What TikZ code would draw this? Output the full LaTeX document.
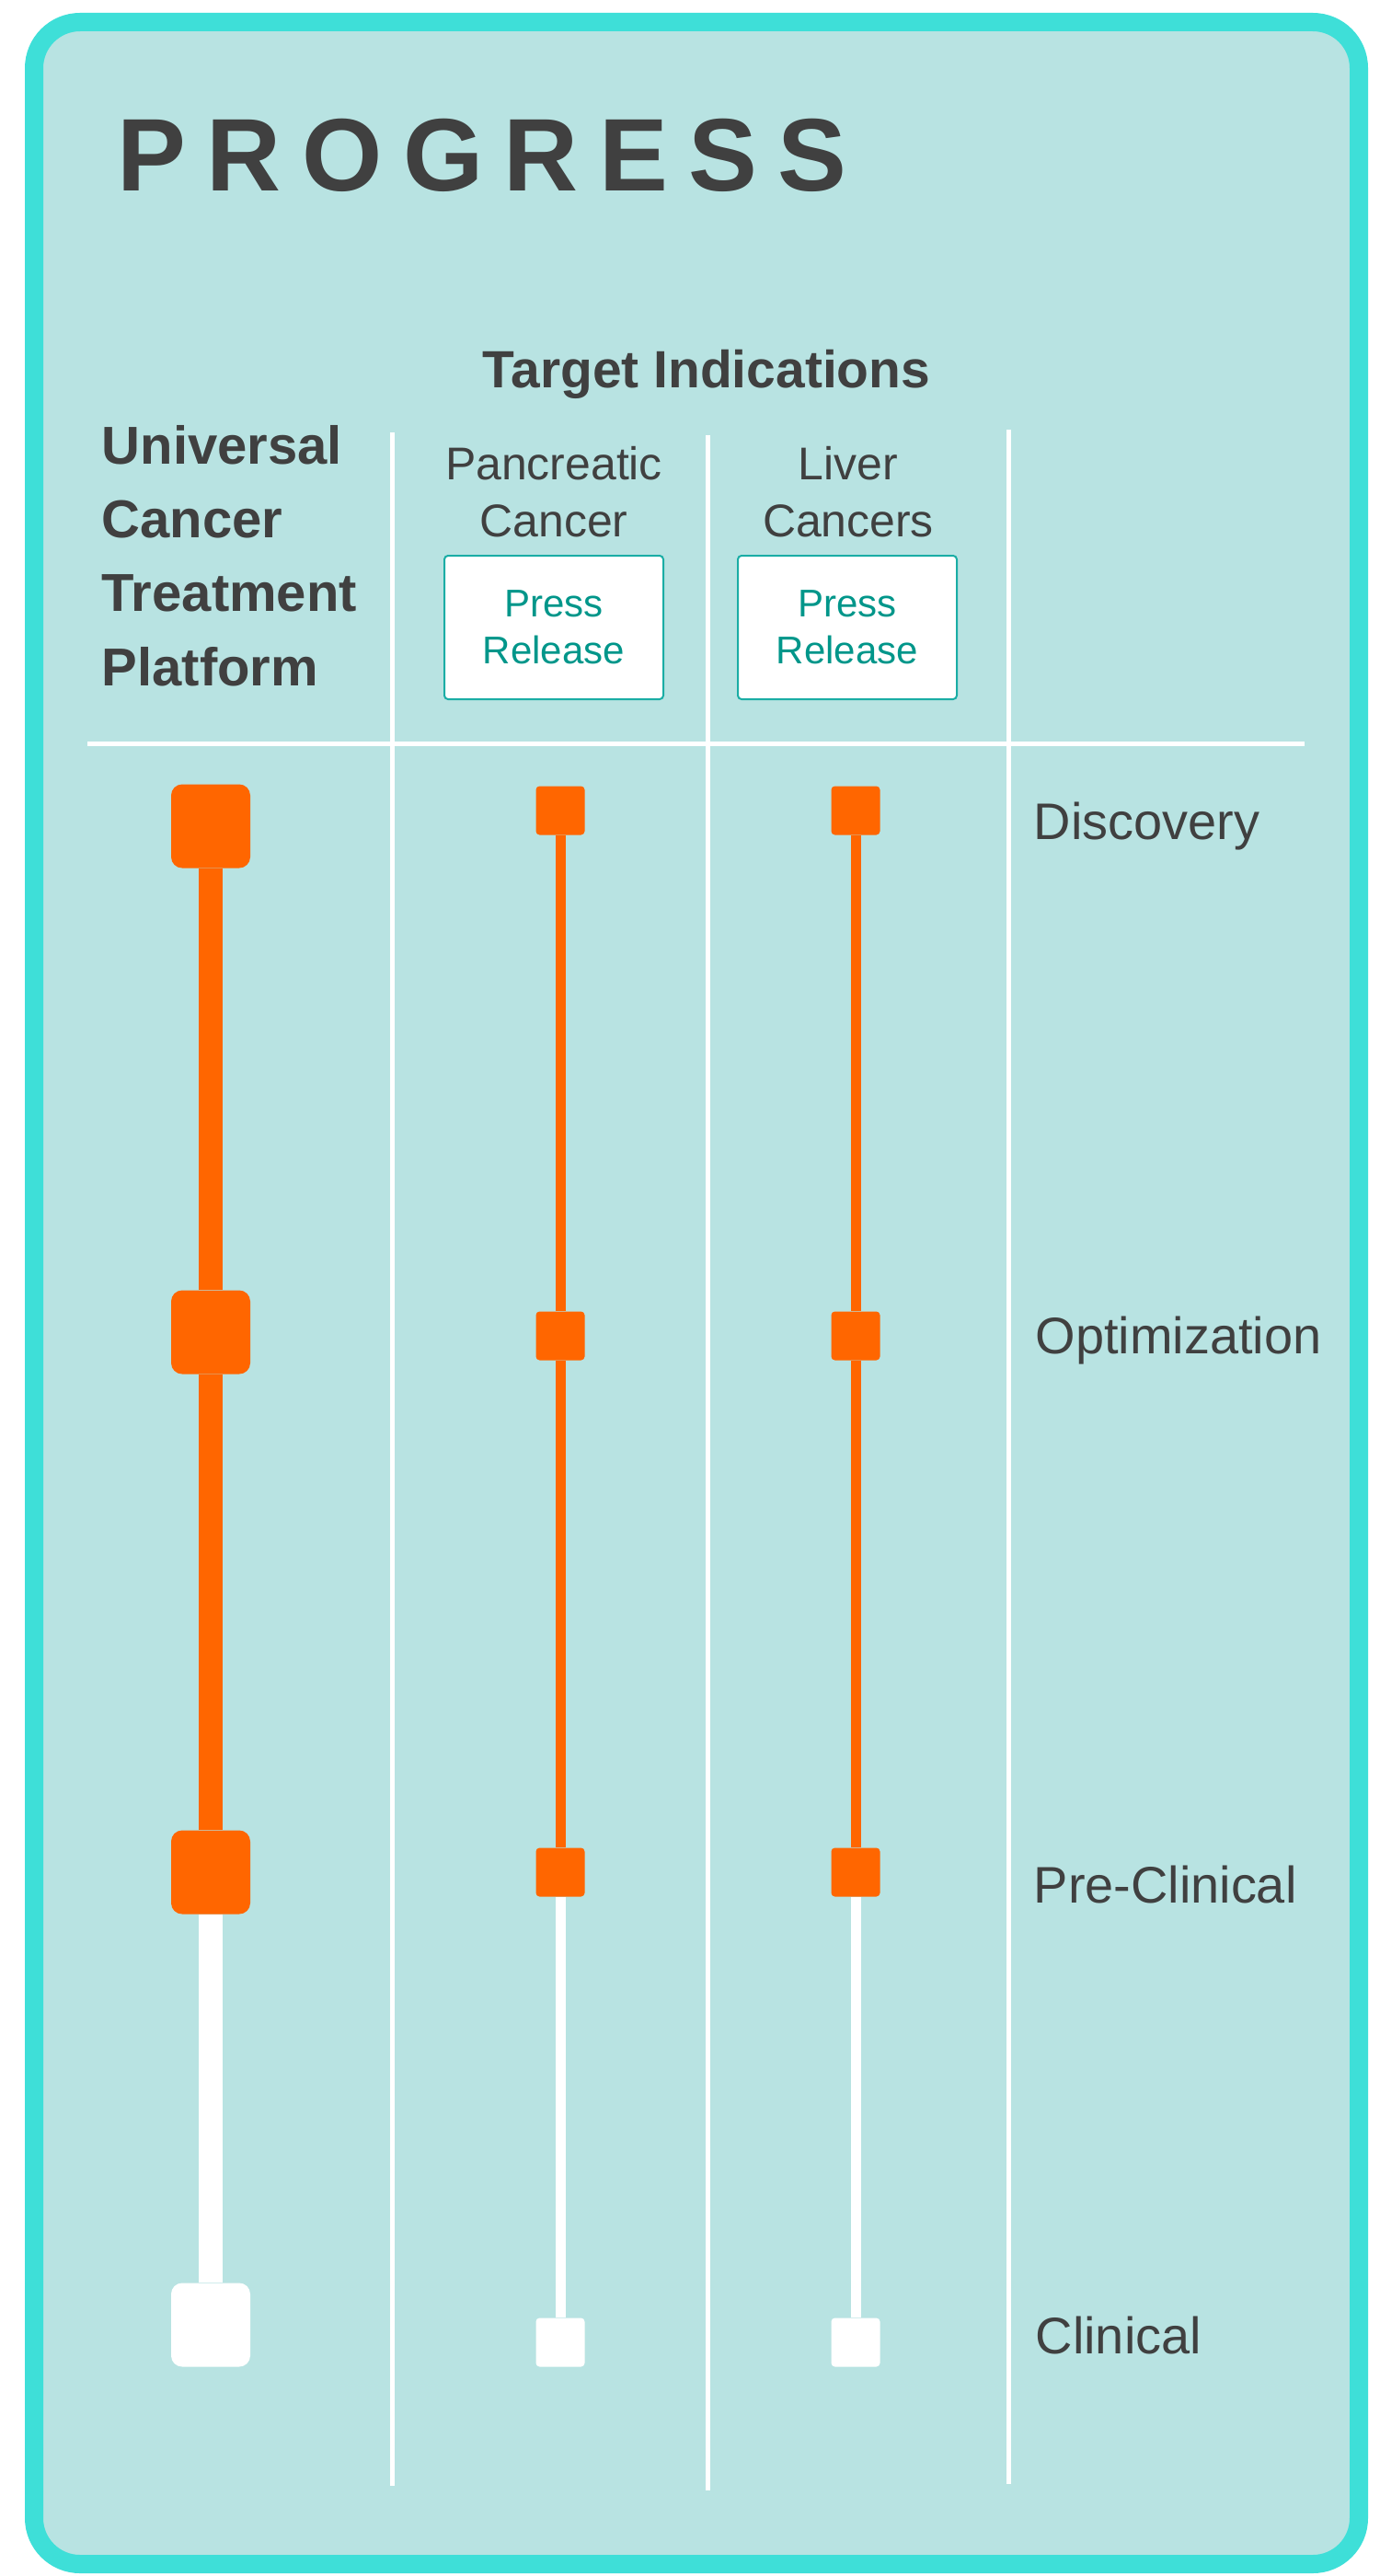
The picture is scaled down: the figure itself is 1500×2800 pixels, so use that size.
\documentclass[tikz,border=0pt]{standalone}
\usepackage{fontspec}
\setmainfont{Liberation Sans}
\usetikzlibrary{positioning}

\definecolor{panelbg}{HTML}{B8E3E2}
\definecolor{panelrim}{HTML}{3EDFD8}
\definecolor{inkgray}{HTML}{404040}
\definecolor{doneorange}{HTML}{FF6600}
\definecolor{pressteal}{HTML}{00968A}
\definecolor{pressrim}{HTML}{1AADA5}

% one unit = one pixel of the 1500x2800 layout
\newdimen\pxu
\pxu=0.01cm
\newcommand{\fs}[2]{\fontsize{#1}{#2}\selectfont}

\tikzset{
	bigmark/.style={minimum width=86\pxu, minimum height=91\pxu, rounded corners=12\pxu, inner sep=0pt},
	smallmark/.style={minimum width=53\pxu, minimum height=53\pxu, rounded corners=4\pxu, inner sep=0pt},
	done/.style={fill=doneorange},
	todo/.style={fill=white},
	bigtrack/.style={line width=26\pxu},
	smalltrack/.style={line width=11\pxu},
	divider/.style={draw=white, line width=5\pxu},
	stage/.style={anchor=base west, inner sep=0pt, text=inkgray, font=\fs{15.9}{19}},
	indication/.style={align=center, inner sep=0pt, text=inkgray, font=\fs{14.2}{17.6}},
	pressbox/.style={draw=pressrim, line width=2\pxu, fill=white, rounded corners=4\pxu,
		minimum width=238\pxu, minimum height=156\pxu, inner sep=0pt, align=center,
		text=pressteal, font=\fs{11.95}{14.5}}
}

\begin{document}
\begin{tikzpicture}[x=0.01cm, y=-0.01cm]
	\useasboundingbox (0,0) rectangle (1500,2800);
	
	% panel
	\draw[panelrim, fill=panelbg, line width=20\pxu, rounded corners=50\pxu] (37,24) rectangle (1477,2787);
	
	% headings (multi-line nodes sit on their last baseline)
	\node[anchor=base west, inner sep=0pt, text=inkgray, font=\fs{31.9}{38}\bfseries\addfontfeature{LetterSpace=20}] (title) at (127,208) {PROGRESS};
	\node[anchor=base, inner sep=0pt, text=inkgray, font=\fs{16.2}{20}\bfseries] (targets) at (768,421) {Target Indications};
	\node[anchor=base west, align=left, inner sep=0pt, text=inkgray, font=\fs{16.5}{22.8}\bfseries] (platform) at (110,745) {Universal\\Cancer\\Treatment\\Platform};
	
	\node[indication, anchor=base] (pancreas) at (602,583) {Pancreatic\\Cancer};
	\node[indication, anchor=base] (liver) at (922,583) {Liver\\Cancers};
	\node[pressbox] (press1) at (602,682) {Press\\Release};
	\node[pressbox] (press2) at (921,682) {Press\\Release};
	
	% grid
	\foreach \dx/\ya/\yb in {426/470/2702, 769/473/2707, 1096/467/2700}
		\draw[divider] (\dx,\ya) -- (\dx,\yb);
	\draw[divider] (95,808) -- (1418,808);
	
	% platform column
	\node[bigmark, done] (u1) at (229,898) {};
	\node[bigmark, done] (u2) at (229,1448) {};
	\node[bigmark, done] (u3) at (229,2035) {};
	\node[bigmark, todo] (u4) at (229,2527) {};
	\draw[bigtrack, doneorange] (u1.south) -- (u2.north);
	\draw[bigtrack, doneorange] (u2.south) -- (u3.north);
	\draw[bigtrack, white] (u3.south) -- (u4.north);
	
	% indication columns
	\foreach \col/\cx in {p/609, l/930} {
		\node[smallmark, done] (\col1) at (\cx,881) {};
		\node[smallmark, done] (\col2) at (\cx,1452) {};
		\node[smallmark, done] (\col3) at (\cx,2035) {};
		\node[smallmark, todo] (\col4) at (\cx,2546) {};
		\draw[smalltrack, doneorange] (\col1.south) -- (\col2.north);
		\draw[smalltrack, doneorange] (\col2.south) -- (\col3.north);
		\draw[smalltrack, white] (\col3.south) -- (\col4.north);
	}
	
	% stages
	\node[stage] (discovery) at (1123,912) {Discovery};
	\node[stage] (optimization) at (1125,1471) {Optimization};
	\node[stage] (preclinical) at (1123,2068) {Pre-Clinical};
	\node[stage] (clinical) at (1125,2558) {Clinical};
\end{tikzpicture}
\end{document}
